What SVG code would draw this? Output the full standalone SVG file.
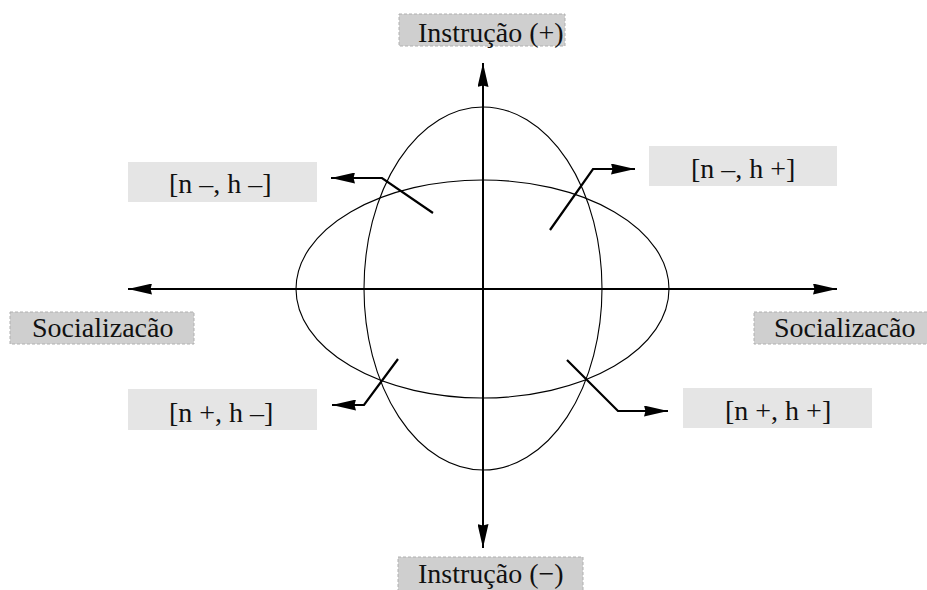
<svg xmlns="http://www.w3.org/2000/svg" width="927" height="590" viewBox="0 0 927 590">
<style>
.t{font-family:"Liberation Serif","Times New Roman",serif;font-size:28px;fill:#111}
.ax{fill:#cfcfcf;stroke:#b0b0b0;stroke-width:1;stroke-dasharray:3,2}
.q{fill:#e5e5e5;stroke:none}
.axis{stroke:#000;stroke-width:2;fill:none}
.ell{stroke:#000;stroke-width:1.1;fill:none}
.ptr{stroke:#000;stroke-width:2.2;fill:none}
</style>
<defs>
<marker id="ah" viewBox="0 0 24 11" refX="24" refY="5.5" markerWidth="24" markerHeight="11" markerUnits="userSpaceOnUse" orient="auto">
<path d="M0,0 L24,5.5 L0,11 L1.5,5.5 Z" fill="#000"/>
</marker>
</defs>
<g id="shapes">
<ellipse class="ell" cx="482.5" cy="289" rx="186.5" ry="109"/>
<ellipse class="ell" cx="483" cy="288.5" rx="119" ry="181.5"/>
</g>
<g id="connectors">
<line class="axis" x1="483" y1="289" x2="483" y2="63" marker-end="url(#ah)"/>
<line class="axis" x1="483" y1="289" x2="483" y2="548" marker-end="url(#ah)"/>
<line class="axis" x1="483" y1="289" x2="128" y2="289" marker-end="url(#ah)"/>
<line class="axis" x1="483" y1="289" x2="837" y2="289" marker-end="url(#ah)"/>
<polyline class="ptr" points="433,213 382,178 331,178" marker-end="url(#ah)"/>
<polyline class="ptr" points="550,230 593,169 635,169" marker-end="url(#ah)"/>
<polyline class="ptr" points="398,359 364,405 332,405" marker-end="url(#ah)"/>
<polyline class="ptr" points="567,360 618,411 668,411" marker-end="url(#ah)"/>
</g>
<g id="instrucao-plus">
<rect class="ax" x="399" y="14" width="166" height="32"/>
<text class="t" x="418" y="42">Instrução (+)</text>
</g>
<g id="instrucao-minus">
<rect class="ax" x="398" y="557" width="185" height="40"/>
<text class="t" x="418" y="583">Instrução (−)</text>
</g>
<g id="socializacao-left">
<rect class="ax" x="10" y="312" width="184" height="32"/>
<text class="t" x="32" y="337">Socializacão</text>
</g>
<g id="socializacao-right">
<rect class="ax" x="754" y="312" width="180" height="32"/>
<text class="t" x="774" y="337">Socializacão</text>
</g>
<g id="q-nm-hm">
<rect class="q" x="128" y="162" width="189" height="40"/>
<text class="t" x="169" y="193">[n –, h –]</text>
</g>
<g id="q-nm-hp">
<rect class="q" x="649" y="146" width="188" height="40"/>
<text class="t" x="691" y="178">[n –, h +]</text>
</g>
<g id="q-np-hm">
<rect class="q" x="128" y="389" width="189" height="41"/>
<text class="t" x="169" y="422">[n +, h –]</text>
</g>
<g id="q-np-hp">
<rect class="q" x="683" y="388" width="189" height="40"/>
<text class="t" x="725" y="420">[n +, h +]</text>
</g>
</svg>
